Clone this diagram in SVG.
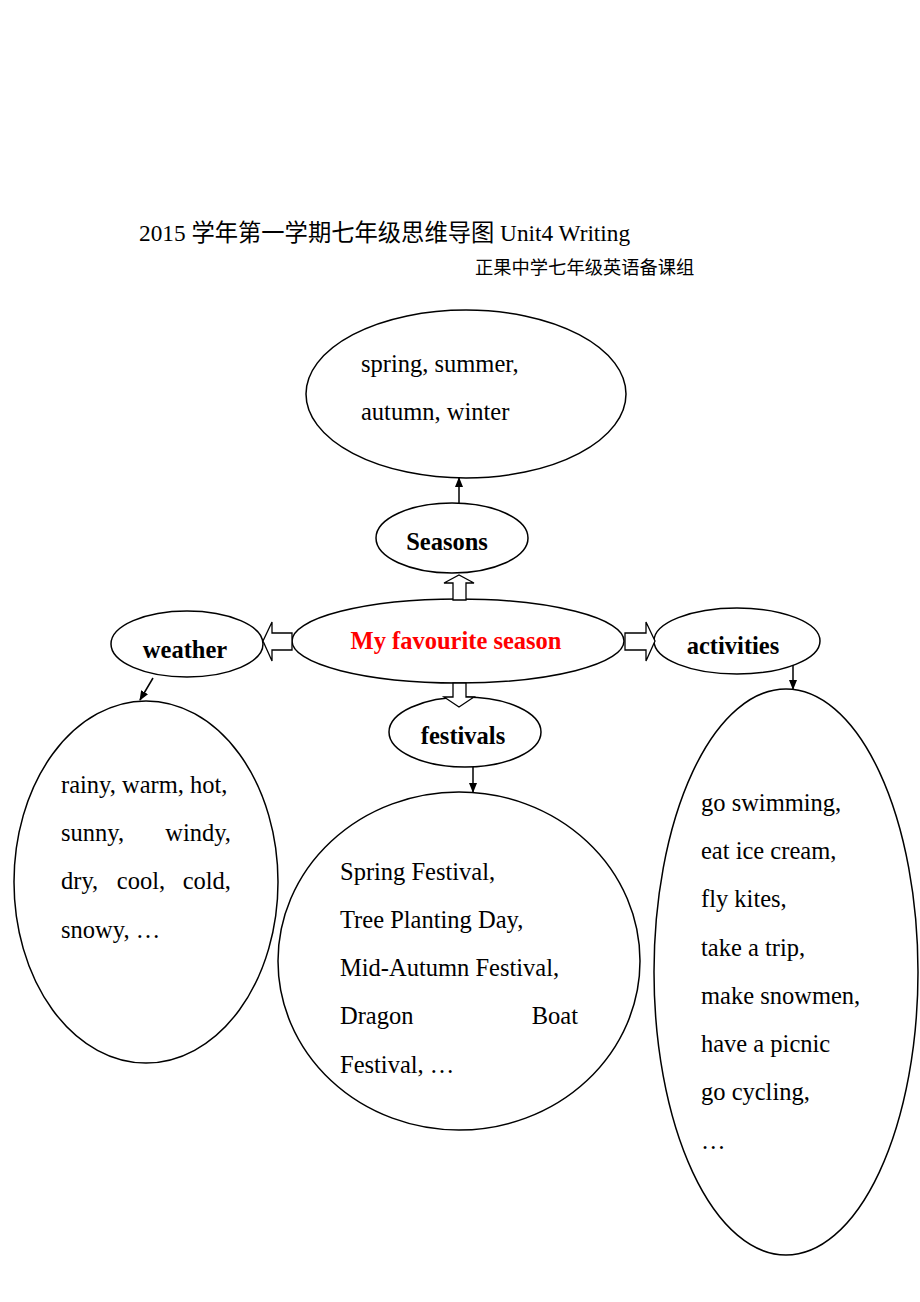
<svg xmlns="http://www.w3.org/2000/svg" width="920" height="1302" viewBox="0 0 920 1302">
<style>
.e{fill:#fff;stroke:#000;stroke-width:1.5}
.t{font-family:"Liberation Serif","Noto Sans CJK SC",serif;font-size:24.5px;fill:#000}
.b{font-family:"Liberation Serif",serif;font-size:24.5px;font-weight:bold;fill:#000;text-anchor:middle}
.ba{fill:#fff;stroke:#000;stroke-width:1.3}
.ln{stroke:#000;stroke-width:1.5;fill:none}
</style>
<defs>
<marker id="ah" markerWidth="10" markerHeight="10" refX="9" refY="5" orient="auto" markerUnits="userSpaceOnUse">
<path d="M0,1 L10,5 L0,9 Z" fill="#000"/>
</marker>
</defs>
<rect width="920" height="1302" fill="#fff"/>
<g id="title">
<text class="t" x="139" y="241" style="font-size:23.3px">2015 学年第一学期七年级思维导图 Unit4 Writing</text>
<text class="t" x="475" y="274" style="font-size:18.3px">正果中学七年级英语备课组</text>
</g>
<g id="seasons-list">
<ellipse class="e" cx="466" cy="394" rx="160" ry="84"/>
<text class="t" x="361" y="372">spring, summer,</text>
<text class="t" x="361" y="420">autumn, winter</text>
</g>
<g id="seasons">
<ellipse class="e" cx="452" cy="538" rx="76" ry="35"/>
<text class="b" x="447" y="550">Seasons</text>
</g>
<g id="main">
<ellipse class="e" cx="458" cy="641" rx="166" ry="42"/>
<text class="b" x="456" y="649" style="fill:#f00">My favourite season</text>
</g>
<g id="weather">
<ellipse class="e" cx="187" cy="644" rx="76" ry="33"/>
<text class="b" x="185" y="658">weather</text>
</g>
<g id="activities">
<ellipse class="e" cx="737" cy="641" rx="83" ry="33"/>
<text class="b" x="733" y="654">activities</text>
</g>
<g id="festivals">
<ellipse class="e" cx="465" cy="732" rx="76" ry="35"/>
<text class="b" x="463" y="744">festivals</text>
</g>
<g id="weather-list">
<ellipse class="e" cx="146" cy="882" rx="132" ry="181"/>
<text class="t" x="61" y="793">rainy, warm, hot,</text>
<text class="t" x="61" y="841">sunny,</text>
<text class="t" x="231" y="841" text-anchor="end">windy,</text>
<text class="t" x="61" y="889">dry,</text>
<text class="t" x="141" y="889" text-anchor="middle">cool,</text>
<text class="t" x="231" y="889" text-anchor="end">cold,</text>
<text class="t" x="61" y="938">snowy, …</text>
</g>
<g id="festivals-list">
<ellipse class="e" cx="459" cy="961" rx="181" ry="169"/>
<text class="t" x="340" y="880">Spring Festival,</text>
<text class="t" x="340" y="928">Tree Planting Day,</text>
<text class="t" x="340" y="976">Mid-Autumn Festival,</text>
<text class="t" x="340" y="1024">Dragon</text>
<text class="t" x="578" y="1024" text-anchor="end">Boat</text>
<text class="t" x="340" y="1073">Festival, …</text>
</g>
<g id="activities-list">
<ellipse class="e" cx="786" cy="972" rx="132" ry="283"/>
<text class="t" x="701" y="811">go swimming,</text>
<text class="t" x="701" y="859">eat ice cream,</text>
<text class="t" x="701" y="907">fly kites,</text>
<text class="t" x="701" y="956">take a trip,</text>
<text class="t" x="701" y="1004">make snowmen,</text>
<text class="t" x="701" y="1052">have a picnic</text>
<text class="t" x="701" y="1100">go cycling,</text>
<text class="t" x="701" y="1149">…</text>
</g>
<g id="connectors">
<path class="ba" d="M453,600 L453,583 L444,583 L459,575 L474,583 L466,583 L466,600 Z"/>
<path class="ba" d="M292,633 L272,633 L272,622 L263,641 L272,661 L272,650 L292,650 Z"/>
<path class="ba" d="M625,633 L646,633 L646,622 L655,641 L646,661 L646,650 L625,650 Z"/>
<path class="ba" d="M453,683 L453,697 L444,697 L459,707 L474,697 L466,697 L466,683 Z"/>
<line class="ln" x1="459" y1="503" x2="459" y2="478" marker-end="url(#ah)"/>
<line class="ln" x1="153" y1="678" x2="140" y2="700" marker-end="url(#ah)"/>
<line class="ln" x1="793" y1="665" x2="793" y2="689" marker-end="url(#ah)"/>
<line class="ln" x1="473" y1="767" x2="473" y2="792" marker-end="url(#ah)"/>
</g>
</svg>
